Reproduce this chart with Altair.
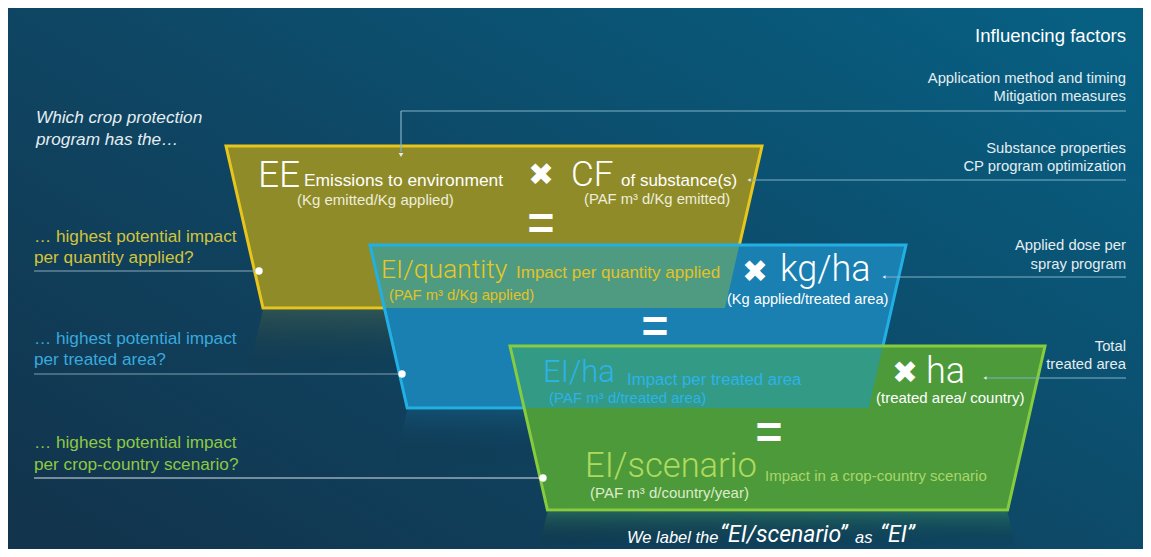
import altair as alt
import pandas as pd

# ---------------- text content ----------------
FACTORS_TITLE = "Influencing factors"
FACTOR_LINES = ["Application method and timing", "Mitigation measures",
                "Substance properties", "CP program optimization",
                "Applied dose per", "spray program",
                "Total", "treated area"]
INTRO_LINES = ["Which crop protection", "program has the…"]
QUESTION_LINES = ["… highest potential impact", "per quantity applied?",
                  "… highest potential impact", "per treated area?",
                  "… highest potential impact", "per crop-country scenario?"]
TERMS = ["EE", "CF", "EI/quantity", "kg/ha", "EI/ha", "ha", "EI/scenario"]
TERM_DESCRIPTIONS = ["Emissions to environment", "of substance(s)",
                     "Impact per quantity applied", "Impact per treated area",
                     "Impact in a crop-country scenario"]
TERM_UNITS = ["(Kg emitted/Kg applied)", "(PAF m³ d/Kg emitted)",
              "(PAF m³ d/Kg applied)", "(Kg applied/treated area)",
              "(PAF m³ d/treated area)", "(treated area/ country)",
              "(PAF m³ d/country/year)"]
TIMES = "✖"
EQUALS = "="
FOOTER_PARTS = ["We label the", "“EI/scenario”", "as", "“EI”"]

# ---------------- layout (pixel space of the picture) ----------------
X0, X1, Y0, Y1 = 8, 1143, 8, 549
SLOPE = 0.2284
# name: (top y, bottom y, top-left x, top-right x)
SHAPES = {
    "yellow": (146, 308, 226, 762),
    "blue": (245, 408, 370, 906),
    "green": (346, 510, 510, 1045),
}
FILL = {"yellow": "#8f8b28", "blue": "#1a80b2", "green": "#4d9a3b"}
EDGE = {"yellow": "#e8c51c", "blue": "#22b0e4", "green": "#86cc3e"}
OVERLAP_FILL = {"yb": "#4f9b82", "bg": "#339a86"}

YEL_T = "#e9c71f"
BLU_T = "#2db2ea"
GRN_T = "#b0da5e"
Q_YEL = "#d3c43c"
Q_BLU = "#39a9dd"
Q_GRN = "#8fc842"
WHITE = "#ffffff"
SOFT = "#e4edf1"

SANS = "Liberation Sans"
LIGHT = "Roboto"


def left_at(name, y):
    t, b, xl, xr = SHAPES[name]
    return xl + SLOPE * (y - t)


def right_at(name, y):
    t, b, xl, xr = SHAPES[name]
    return xr - SLOPE * (y - t)


xs = alt.Scale(domain=[X0, X1], nice=False, zero=False)
ys = alt.Scale(domain=[Y0, Y1], nice=False, zero=False, reverse=True)


def X(f):
    return alt.X(f, type="quantitative", scale=xs, axis=None)


def Y(f):
    return alt.Y(f, type="quantitative", scale=ys, axis=None)


layers = []

# background gradient
bg = alt.Chart(pd.DataFrame({"a": [0]})).mark_rect(
    color=alt.Gradient(gradient="linear", x1=0, y1=0.9, x2=1, y2=0.1,
                       stops=[alt.GradientStop(offset=0, color="#12344d"),
                              alt.GradientStop(offset=0.5, color="#0e4866"),
                              alt.GradientStop(offset=1, color="#075f82")])
).encode(x=alt.value(-2), x2=alt.value(X1 - X0), y=alt.value(-2), y2=alt.value(Y1 - Y0))
layers.append(bg)


def trap_area(rows, color, opacity=1.0):
    df = pd.DataFrame(rows, columns=["y", "xl", "xr"])
    return alt.Chart(df).mark_area(orient="horizontal", color=color, opacity=opacity,
                                   interpolate="linear").encode(
        y=Y("y"), x=X("xl"), x2="xr")


def shape_rows(name):
    t, b, xl, xr = SHAPES[name]
    return [(t, left_at(name, t), right_at(name, t)), (b, left_at(name, b), right_at(name, b))]


def outline(name):
    t, b, xl, xr = SHAPES[name]
    pts = [(left_at(name, t), t), (right_at(name, t), t), (right_at(name, b), b), (left_at(name, b), b)]
    df = pd.DataFrame([(x, y, i) for i, (x, y) in enumerate(pts)], columns=["x", "y", "o"])
    return alt.Chart(df).mark_line(color=EDGE[name], strokeWidth=3, interpolate="linear-closed",
                                   strokeJoin="miter").encode(x=X("x"), y=Y("y"), order="o:Q")


def reflection(name, depth, col):
    t, b, xl, xr = SHAPES[name]
    rows = [(b + 2, left_at(name, b), right_at(name, b)),
            (b + depth, left_at(name, b) - SLOPE * depth, right_at(name, b) + SLOPE * depth)]
    df = pd.DataFrame(rows, columns=["y", "xl", "xr"])
    return alt.Chart(df).mark_area(orient="horizontal", color=alt.Gradient(
        gradient="linear", x1=0, y1=0, x2=0, y2=1,
        stops=[alt.GradientStop(offset=0, color=col),
               alt.GradientStop(offset=1, color="rgba(0,0,0,0)")])).encode(
        y=Y("y"), x=X("xl"), x2="xr")


layers.append(reflection("yellow", 70, "rgba(150,145,45,0.22)"))
layers.append(reflection("blue", 60, "rgba(30,130,180,0.22)"))
layers.append(reflection("green", 39, "rgba(70,160,90,0.35)"))

# yellow
layers.append(trap_area(shape_rows("yellow"), FILL["yellow"]))
layers.append(outline("yellow"))
# blue
layers.append(trap_area(shape_rows("blue"), FILL["blue"]))
t_b, b_y = SHAPES["blue"][0], SHAPES["yellow"][1]
layers.append(trap_area([(t_b, left_at("blue", t_b), right_at("yellow", t_b)),
                         (b_y, left_at("blue", b_y), right_at("yellow", b_y))], OVERLAP_FILL["yb"]))
layers.append(outline("blue"))
# green
layers.append(trap_area(shape_rows("green"), FILL["green"]))
t_g, b_b = SHAPES["green"][0], SHAPES["blue"][1]
layers.append(trap_area([(t_g, left_at("green", t_g), right_at("blue", t_g)),
                         (b_b, left_at("green", b_b), right_at("blue", b_b))], OVERLAP_FILL["bg"]))
layers.append(outline("green"))

# connector lines
RIGHT_EDGE = 1126
seg_rows = [
    (401, 111, RIGHT_EDGE, 111, "#7fb2c6"),
    (401, 111, 401, 152, "#7fb2c6"),
    (751, 180, RIGHT_EDGE, 180, "#7fb2c6"),
    (886, 277, RIGHT_EDGE, 277, "#7fb2c6"),
    (987, 378, RIGHT_EDGE, 378, "#7fb2c6"),
    (34, 271, 259, 271, "#8aa9b8"),
    (34, 374, 402, 374, "#7f9fb0"),
    (34, 478, 543, 478, "#d8e2e6"),
]
segs = pd.DataFrame(seg_rows, columns=["x", "y", "x2", "y2", "c"])
layers.append(alt.Chart(segs).mark_rule(strokeWidth=1.2).encode(
    x=X("x"), y=Y("y"), x2="x2", y2="y2", color=alt.Color("c:N", scale=None)))

arrows_down = pd.DataFrame({"x": [401], "y": [155]})
layers.append(alt.Chart(arrows_down).mark_point(shape="triangle-down", filled=True, size=22,
                                                color="#e0eef4", opacity=1).encode(x=X("x"), y=Y("y")))
arrows_left = pd.DataFrame({"x": [749, 884, 985], "y": [180, 277, 378]})
layers.append(alt.Chart(arrows_left).mark_point(shape="triangle-left", filled=True, size=14,
                                                color="#e0eef4", opacity=1).encode(x=X("x"), y=Y("y")))
dots = pd.DataFrame({"x": [259, 402, 543], "y": [271, 374, 478]})
layers.append(alt.Chart(dots).mark_circle(size=55, color="#ffffff", opacity=1).encode(x=X("x"), y=Y("y")))

# ---------------- texts ----------------
recs = []


def T(text, x, y, size, color, align="left", italic=False, weight="normal", font=SANS):
    recs.append(dict(text=text, x=x, y=y, size=size, color=color, align=align,
                     style="italic" if italic else "normal", weight=weight, font=font))


T(FACTORS_TITLE, RIGHT_EDGE, 36, 18.6, WHITE, "right")
for i, (ya, yb) in enumerate([(79, 97), (149, 167), (246, 265), (347, 365)]):
    T(FACTOR_LINES[2 * i], RIGHT_EDGE, ya, 14.8, SOFT, "right")
    T(FACTOR_LINES[2 * i + 1], RIGHT_EDGE, yb, 14.8, SOFT, "right")

T(INTRO_LINES[0], 36, 118, 17.2, SOFT, italic=True)
T(INTRO_LINES[1], 36, 140, 17.2, SOFT, italic=True)
for i, ((ya, yb), c) in enumerate(zip([(237, 258), (339, 360), (443, 465)], [Q_YEL, Q_BLU, Q_GRN])):
    T(QUESTION_LINES[2 * i], 34, ya, 17.2, c)
    T(QUESTION_LINES[2 * i + 1], 34, yb, 17.2, c)

# yellow trapezoid
T(TERMS[0], 258, 176, 37, WHITE, font=LIGHT, weight=300)
T(TERM_DESCRIPTIONS[0], 304, 181, 17.4, WHITE)
T(TERM_UNITS[0], 297, 200, 15, "#eeeedd")
T(TIMES, 541, 176, 31, WHITE, "center")
T(TERMS[1], 571, 175, 35, WHITE, font=LIGHT, weight=300)
T(TERM_DESCRIPTIONS[1], 621, 181, 17, WHITE)
T(TERM_UNITS[1], 584, 200, 14.8, "#eeeedd")
T(EQUALS, 541, 225, 46, WHITE, "center", weight="bold")

# blue trapezoid
T(TERMS[2], 381, 270, 26.5, YEL_T, font=LIGHT, weight=300)
T(TERM_DESCRIPTIONS[2], 516, 273, 17, "#e2c225")
T(TERM_UNITS[2], 389, 296, 14.8, "#e2c225")
T(TIMES, 755, 273, 31, WHITE, "center")
T(TERMS[3], 780, 270, 36, WHITE, font=LIGHT, weight=300)
T(TERM_UNITS[3], 727, 300, 14.6, WHITE)
T(EQUALS, 655, 328, 46, WHITE, "center", weight="bold")

# green trapezoid
T(TERMS[4], 543, 373, 31, BLU_T, font=LIGHT, weight=300)
T(TERM_DESCRIPTIONS[3], 627, 380, 16.8, BLU_T)
T(TERM_UNITS[4], 549, 398, 15, BLU_T)
T(TIMES, 905, 374, 31, WHITE, "center")
T(TERMS[5], 926, 372, 36, WHITE, font=LIGHT, weight=300)
T(TERM_UNITS[5], 876, 398, 15, WHITE)
T(EQUALS, 769, 434, 46, WHITE, "center", weight="bold")
T(TERMS[6], 585, 467, 34.5, GRN_T, font=LIGHT, weight=300)
T(TERM_DESCRIPTIONS[4], 765, 476, 15, "#a9d66a")
T(TERM_UNITS[6], 590, 493, 15, "#dcecc8")

# footer
T(FOOTER_PARTS[0], 627, 538, 16.5, WHITE, italic=True)
T(FOOTER_PARTS[1], 720, 535, 23, WHITE, italic=True, font=LIGHT, weight="normal")
T(FOOTER_PARTS[2], 855, 538, 16.5, WHITE, italic=True)
T(FOOTER_PARTS[3], 880, 535, 23, WHITE, italic=True, font=LIGHT, weight="normal")

tdf = pd.DataFrame(recs)
tdf["weight"] = tdf["weight"].astype(str)
for (align, style, weight, font), g in tdf.groupby(["align", "style", "weight", "font"]):
    w = int(weight) if weight.isdigit() else weight
    layers.append(alt.Chart(g.reset_index(drop=True)).mark_text(
        align=align, baseline="middle", fontStyle=style, fontWeight=w, font=font).encode(
        x=X("x"), y=Y("y"), text="text:N",
        size=alt.Size("size:Q", scale=None), color=alt.Color("color:N", scale=None)))

chart = alt.layer(*layers).properties(
    width=X1 - X0, height=Y1 - Y0,
    autosize=alt.AutoSizeParams(type="none"), padding=0,
).configure_view(stroke=None).configure(background="#ffffff")

chart.save("out.html", embed_options={"renderer": "svg", "actions": False})
